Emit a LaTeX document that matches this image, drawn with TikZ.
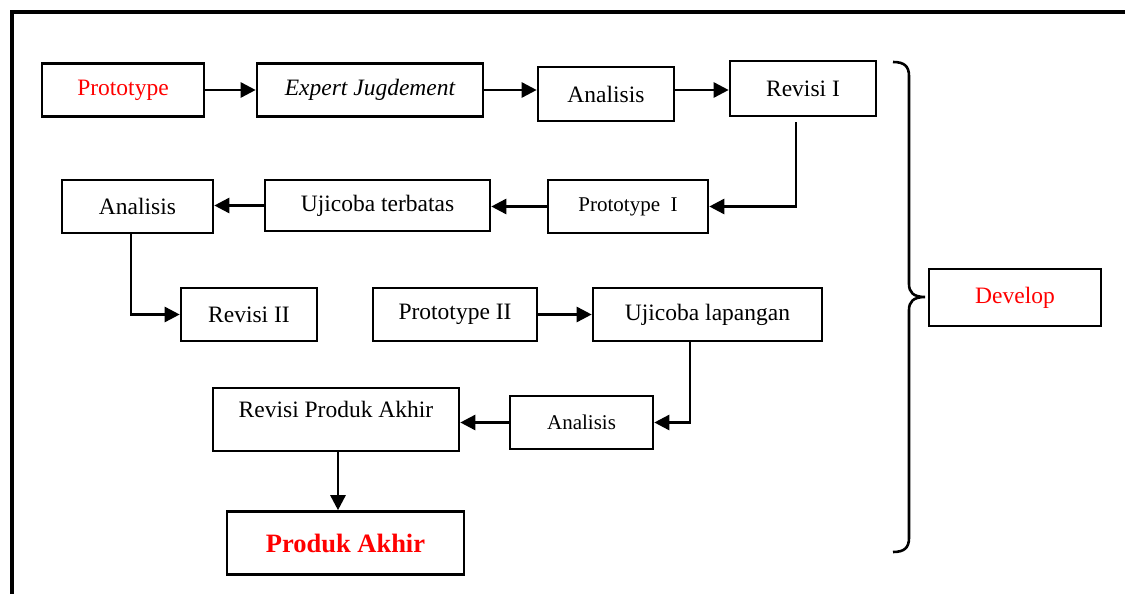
\documentclass[tikz,border=0pt]{standalone}
\usepackage{fontspec}
\setmainfont{Liberation Serif}
\usetikzlibrary{arrows.meta}
\tikzset{
  box/.style={draw=black, line width=2.6pt, inner sep=0pt, fill=white, font=\fontsize{23.5}{28}\selectfont},
  smallbox/.style={box, font=\fontsize{21}{25}\selectfont},
  conn/.style={line width=2.6pt, -{Triangle[length=15pt,width=15pt]}},
}
\begin{document}
\begin{tikzpicture}[x=1pt,y=-1pt]
\useasboundingbox (0,0) rectangle (1125,594);
\clip (0,0) rectangle (1125,594);
% frame
\draw[line width=4.5pt] (12,620) -- (12,12) -- (1140,12);
% nodes
\node[box, minimum width=162, minimum height=53, text=red] (proto) at (123,90) {Prototype};
\node[box, minimum width=226, minimum height=53] (expert) at (370,90) {\itshape Expert Jugdement};
\node[box, minimum width=136, minimum height=54] (ana1) at (606,94) {Analisis};
\node[box, minimum width=146, minimum height=55] (rev1) at (803,88.5) {Revisi I};
\node[box, minimum width=151, minimum height=53] (ana2) at (137.5,206.5) {Analisis};
\node[box, minimum width=225, minimum height=51] (uji1) at (377.5,205.5) {Ujicoba terbatas};
\node[smallbox, minimum width=160, minimum height=53] (proto1) at (628,206.5) {Prototype~ I};
\node[box, minimum width=136, minimum height=53] (rev2) at (249,314.5) {Revisi II};
\node[box, minimum width=164, minimum height=53] (proto2) at (455,314.5) {Prototype II};
\node[box, minimum width=229, minimum height=53] (uji2) at (707.5,314.5) {Ujicoba lapangan};
\node[box, minimum width=246, minimum height=63, text height=17pt, text depth=22pt] (revpa) at (336,419.5) {Revisi Produk Akhir};
\node[smallbox, minimum width=143, minimum height=53] (ana3) at (581.5,422.5) {Analisis};
\node[box, minimum width=237, minimum height=63, text=red, font=\fontsize{26.5}{30}\selectfont\bfseries] (prod) at (345.5,543) {Produk Akhir};
\node[box, minimum width=172, minimum height=57, text=red] (dev) at (1015,297.5) {Develop};
% connectors
\draw[conn] (proto.east) -- (proto.east -| expert.west);
\draw[conn] (expert.east) -- (expert.east -| ana1.west);
\draw[conn] (ana1.east |- expert.east) -- (rev1.west |- expert.east);
\draw[conn, shorten <=5pt] ([xshift=-7pt]rev1.south) |- (proto1.east);
\draw[conn] (proto1.west) -- (proto1.west -| uji1.east);
\draw[conn] (uji1.west) -- (uji1.west -| ana2.east);
\draw[conn] ([xshift=-6.5pt]ana2.south) |- (rev2.west);
\draw[conn] (proto2.east) -- (uji2.west);
\draw[conn] ([xshift=-17.5pt]uji2.south) |- (ana3.east);
\draw[conn] (ana3.west) -- (ana3.west -| revpa.east);
\draw[conn] ([xshift=2pt]revpa.south) -- ([xshift=2pt]revpa.south |- prod.north);
% brace
\draw[line width=2.6pt] (893,62) .. controls (904,62) and (909,66) .. (909,76) -- (909,284)
  .. controls (909,292) and (913,297) .. (925,297)
  .. controls (913,297) and (909,302) .. (909,310) -- (909,538)
  .. controls (909,548) and (904,552) .. (893,552);
\end{tikzpicture}
\end{document}
